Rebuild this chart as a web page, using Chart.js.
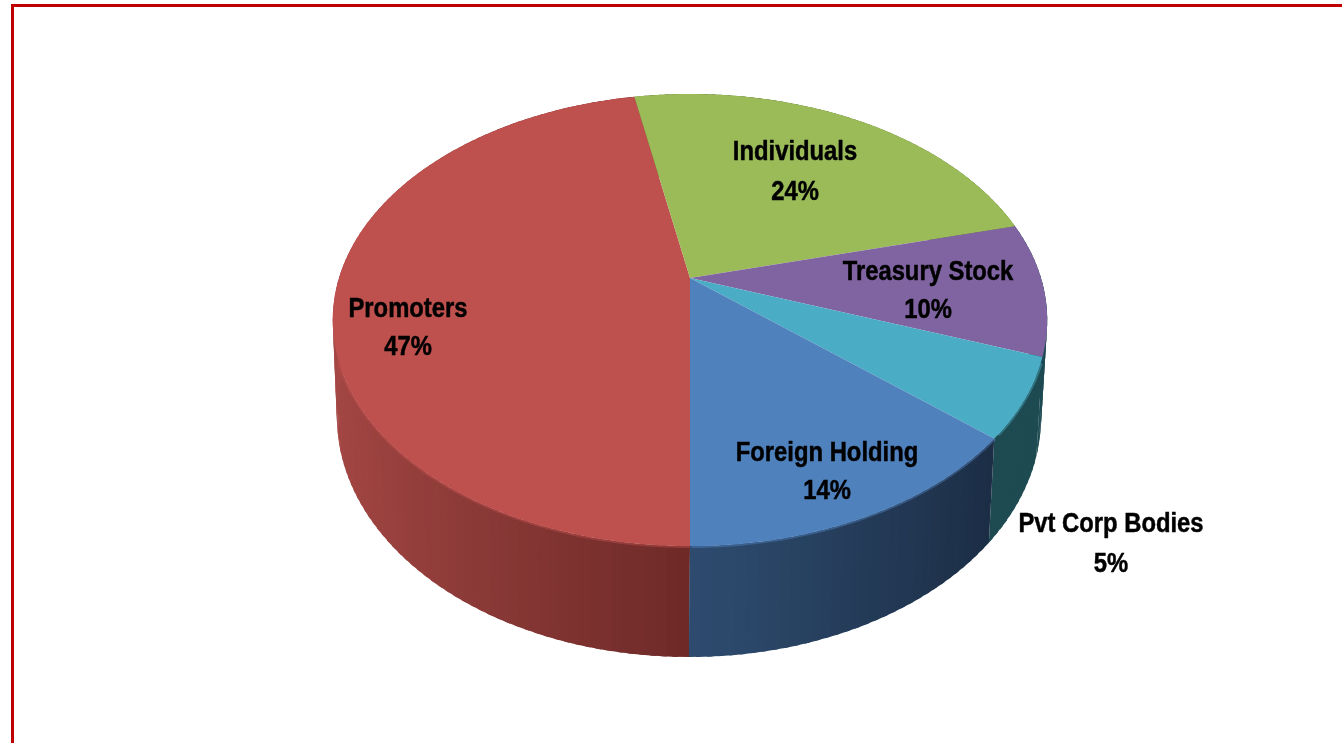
<!DOCTYPE html>
<html>
<head>
<meta charset="utf-8">
<title>Shareholding pattern</title>
<script src="https://cdn.jsdelivr.net/npm/chart.js@4/dist/chart.umd.min.js"></script>
<style>
  html, body { margin: 0; padding: 0; background: #fff; overflow: hidden; }
  #wrap { position: relative; width: 1342px; height: 743px; overflow: hidden; }
  #frame { position: absolute; left: 11px; top: 4px; width: 1400px; height: 800px; border: 3px solid #c00000; }
  canvas { position: absolute; left: 0; top: 0; }
</style>
</head>
<body>
<div id="wrap">
  <div id="frame"></div>
  <canvas id="pie" width="1342" height="743"></canvas>
</div>
<script>
// values, clockwise from the front of the pie
const categories = ['Promoters', 'Individuals', 'Treasury Stock', 'Pvt Corp Bodies', 'Foreign Holding'];
const shares = [47, 24, 9.5, 5.7, 13.8];
const shareLabels = ['47%', '24%', '10%', '5%', '14%'];

const topColors = ['#be504e', '#9bbb59', '#8064a2', '#4aacc5', '#4f81bd'];
// side wall colour at the front of the pie and at its widest point
const wallFront = [[110, 42, 40], [90, 110, 50], [30, 74, 82], [30, 74, 82], [46, 76, 112]];
const wallSide = [[166, 72, 69], [110, 135, 60], [30, 74, 82], [30, 74, 82], [22, 36, 56]];

// where each label goes: centre x, first baseline, second baseline
const labelPlaces = [
  [408, 317, 355],
  [795, 160, 200],
  [928, 280, 318],
  [1111, 532, 572],
  [827, 461, 499]
];

// the two perspective circles of the drum (k is the foreshortening)
const k = -0.186;
const topFace = { cx: 690, cy: 278, a: 351, b: 218.2 };
const bottomFace = { cx: 689, cy: 372, a: 346, b: 232 };

function project(face, angle) {
  const u = Math.cos(angle), v = Math.sin(angle), w = 1 + k * v;
  return [face.cx + face.a * u / w, face.cy + face.b * v / w];
}

function mix(a, b, t) {
  return 'rgb(' + a.map((c, i) => Math.round(c + (b[i] - c) * t)).join(',') + ')';
}

const drumPlugin = {
  id: 'drum',
  beforeDatasetsDraw(chart) {
    const ctx = chart.ctx;
    const arcs = chart.getDatasetMeta(0).data;
    const step = Math.PI / 120;

    // walls first, the top face covers whatever is behind it
    arcs.forEach((arc, i) => {
      const { startAngle, endAngle } = arc.getProps(['startAngle', 'endAngle'], true);
      for (let s = startAngle; s < endAngle; s += step) {
        const e = Math.min(s + step, endAngle);
        // each strip runs a little under the next one so no seams show
        const over = Math.min(e + step / 2, endAngle);
        const p1 = project(topFace, s), p2 = project(topFace, over);
        const p3 = project(bottomFace, over), p4 = project(bottomFace, s);
        ctx.beginPath();
        ctx.moveTo(p1[0], p1[1]);
        ctx.lineTo(p2[0], p2[1]);
        ctx.lineTo(p3[0], p3[1]);
        ctx.lineTo(p4[0], p4[1]);
        ctx.closePath();
        ctx.fillStyle = mix(wallFront[i], wallSide[i], Math.abs(Math.cos((s + e) / 2)));
        ctx.fill();
      }
    });

    // soft rim where the top face meets the wall
    ctx.save();
    ctx.globalAlpha = 0.45;
    ctx.lineWidth = 4;
    arcs.forEach((arc, i) => {
      const { startAngle, endAngle } = arc.getProps(['startAngle', 'endAngle'], true);
      ctx.beginPath();
      let open = false;
      for (let s = startAngle; s <= endAngle; s += step) {
        if (Math.sin(s) < 0.35) continue;
        const p = project(topFace, s);
        if (open) ctx.lineTo(p[0], p[1]); else ctx.moveTo(p[0], p[1]);
        open = true;
      }
      ctx.strokeStyle = topColors[i];
      ctx.stroke();
    });
    ctx.restore();

    arcs.forEach((arc, i) => {
      const { startAngle, endAngle } = arc.getProps(['startAngle', 'endAngle'], true);
      ctx.beginPath();
      ctx.moveTo(topFace.cx, topFace.cy);
      for (let s = startAngle; s < endAngle; s += step) {
        const p = project(topFace, s);
        ctx.lineTo(p[0], p[1]);
      }
      const last = project(topFace, endAngle);
      ctx.lineTo(last[0], last[1]);
      ctx.closePath();
      ctx.fillStyle = topColors[i];
      ctx.fill();
    });
    return false;
  },
  // afterDatasetsDraw does not fire once the datasets are cancelled
  afterDraw(chart) {
    const ctx = chart.ctx;
    ctx.save();
    ctx.fillStyle = '#000';
    ctx.strokeStyle = '#000';
    ctx.lineWidth = 0.5;
    ctx.textAlign = 'center';
    ctx.textBaseline = 'alphabetic';
    ctx.font = 'bold 28px "Liberation Sans"';
    categories.forEach((name, i) => {
      const place = labelPlaces[i];
      ctx.save();
      ctx.translate(place[0], 0);
      ctx.scale(0.85, 1);
      ctx.fillText(name, 0, place[1]);
      ctx.strokeText(name, 0, place[1]);
      ctx.fillText(shareLabels[i], 0, place[2]);
      ctx.strokeText(shareLabels[i], 0, place[2]);
      ctx.restore();
    });
    ctx.restore();
  }
};

new Chart(document.getElementById('pie'), {
  type: 'pie',
  data: {
    labels: categories,
    datasets: [{ data: shares, backgroundColor: topColors, borderWidth: 0 }]
  },
  options: {
    responsive: false,
    animation: false,
    rotation: 180,
    plugins: { legend: { display: false }, tooltip: { enabled: false } }
  },
  plugins: [drumPlugin]
});
</script>
</body>
</html>
